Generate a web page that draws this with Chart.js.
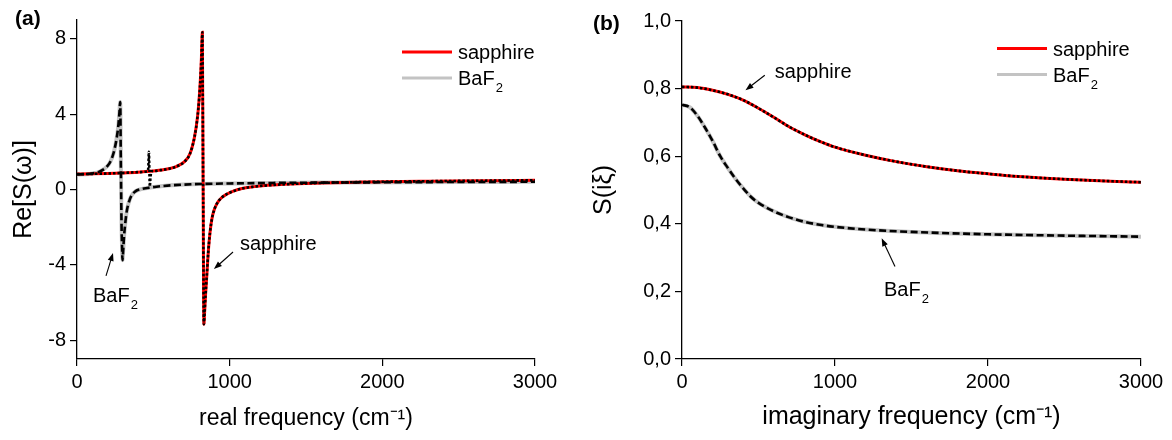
<!DOCTYPE html>
<html><head><meta charset="utf-8">
<script src="https://cdn.jsdelivr.net/npm/chart.js@4"></script>
<style>
html,body{margin:0;padding:0;background:#fff;}
#wrap{position:relative;width:1172px;height:440px;overflow:hidden;}
#ca{position:absolute;left:0;top:0;}
#cb{position:absolute;left:580px;top:0;}
</style></head><body>
<div id="wrap"><canvas id="ca" width="580" height="440"></canvas><canvas id="cb" width="592" height="440"></canvas></div>
<script>
// ---------- data ----------
const seriesNames = ['sapphire', 'BaF₂'];

// panel (a): Re[S(omega)] vs real frequency
const freqA_sapphire = [0,100,200,300,400,500,550,600,650,700,740,770,790,800,810,815,818,821,826,831,836,842,850,860,871,885,900,920,945,980,1020,1080,1150,1250,1400,1600,1900,2300,2700,3000];
const reS_sapphire   = [0.82,0.83,0.85,0.88,0.92,0.98,1.03,1.1,1.22,1.45,1.9,2.8,3.9,4.8,6.1,7.0,7.8,8.35,0.5,-7.15,-6.5,-5.6,-4.6,-3.3,-2.3,-1.5,-1.05,-0.7,-0.45,-0.25,-0.1,0.05,0.14,0.22,0.29,0.35,0.4,0.44,0.47,0.49];
const freqA_sapphireFit = [0,100,200,300,400,460,467,471,474,477,481,487,500,550,600,650,700,740,770,790,800,810,815,818,821,826,831,836,842,850,860,871,885,900,920,945,980,1020,1080,1150,1250,1400,1600,1900,2300,2700,3000];
const reS_sapphireFit   = [0.82,0.83,0.85,0.88,0.92,0.96,1.15,2.0,1.0,0.16,0.6,0.97,0.98,1.03,1.1,1.22,1.45,1.9,2.8,3.9,4.8,6.1,7.0,7.8,8.35,0.5,-7.15,-6.5,-5.6,-4.6,-3.3,-2.3,-1.5,-1.05,-0.7,-0.45,-0.25,-0.1,0.05,0.14,0.22,0.29,0.35,0.4,0.44,0.47,0.49];
const freqA_baf2 = [0,50,100,150,200,220,240,255,265,272,278,283,287,292,295,298,302,308,316,325,338,355,382,420,460,520,612,700,800,1000,1300,1700,2200,2600,3000];
const reS_baf2   = [0.8,0.81,0.85,0.96,1.25,1.5,1.95,2.5,3.0,3.5,4.1,4.65,1.5,-2.0,-3.0,-3.75,-3.3,-2.5,-1.8,-1.2,-0.72,-0.35,-0.1,0.02,0.08,0.15,0.22,0.26,0.29,0.32,0.35,0.37,0.39,0.4,0.41];

// panel (b): S(i xi) vs imaginary frequency
const freqB_sapphire = [0,100,200,300,400,500,600,700,800,900,1000,1200,1400,1600,1800,2000,2200,2500,2800,3000];
const S_sapphire     = [0.805,0.803,0.795,0.783,0.766,0.742,0.715,0.687,0.664,0.644,0.627,0.603,0.584,0.569,0.557,0.548,0.54,0.532,0.526,0.523];
const freqB_baf2 = [0,50,100,150,200,250,300,350,400,450,500,600,700,800,900,1000,1200,1500,2000,2500,3000];
const S_baf2     = [0.752,0.745,0.72,0.685,0.645,0.6,0.565,0.533,0.505,0.48,0.462,0.437,0.419,0.406,0.397,0.391,0.383,0.376,0.369,0.365,0.362];

// ticks
const xTicks = [0,1000,2000,3000];
const xTickLabels = ['0','1000','2000','3000'];
const yTicksA = [-8,-4,0,4,8];
const yTickLabelsA = ['-8','-4','0','4','8'];
const yTicksB = [0,0.2,0.4,0.6,0.8,1.0];
const yTickLabelsB = ['0,0','0,2','0,4','0,6','0,8','1,0'];

// ---------- rendering ----------
const FONT = '"Liberation Sans", Arial, Helvetica, sans-serif';
const RED = '#ff0000', GRAY = '#c3c3c3', BLACK = '#000000';

function pts(xs, ys) { return xs.map((x, i) => ({x: x, y: ys[i]})); }

function drawRich(ctx, text, x, y, size) {
  ctx.textBaseline = 'alphabetic'; ctx.textAlign = 'left'; ctx.fillStyle = '#000';
  let cx = x;
  for (const seg of text.split(/(₂)/)) {
    if (!seg) continue;
    if (seg === '₂') {
      ctx.font = Math.round(size * 0.65) + 'px ' + FONT;
      ctx.fillText('2', cx + 1, y + 7);
      cx += ctx.measureText('2').width + 1;
    } else {
      ctx.font = size + 'px ' + FONT;
      ctx.fillText(seg, cx, y);
      cx += ctx.measureText(seg).width;
    }
  }
}
function drawArrow(ctx, x1, y1, x2, y2) {
  const a = Math.atan2(y2 - y1, x2 - x1), L = 8, W = 3;
  ctx.strokeStyle = '#000'; ctx.fillStyle = '#000'; ctx.lineWidth = 1.1;
  ctx.beginPath(); ctx.moveTo(x1, y1); ctx.lineTo(x2 - L * 0.8 * Math.cos(a), y2 - L * 0.8 * Math.sin(a)); ctx.stroke();
  ctx.beginPath(); ctx.moveTo(x2, y2);
  ctx.lineTo(x2 - L * Math.cos(a) + W * Math.sin(a), y2 - L * Math.sin(a) - W * Math.cos(a));
  ctx.lineTo(x2 - L * Math.cos(a) - W * Math.sin(a), y2 - L * Math.sin(a) + W * Math.cos(a));
  ctx.closePath(); ctx.fill();
}

const decor = {
  id: 'decor',
  afterDraw(chart, args, o) {
    const ctx = chart.ctx, xs = chart.scales.x, ys = chart.scales.y, ca = chart.chartArea;
    ctx.save();
    ctx.font = 'bold 21px ' + FONT; ctx.fillStyle = '#000'; ctx.textBaseline = 'alphabetic'; ctx.textAlign = 'left';
    ctx.fillText(o.panel, o.panelPos[0], o.panelPos[1]);
    const items = chart.data.datasets.filter(d => d.inLegend);
    items.forEach((d, i) => {
      const ly = ca.top + o.legendTop + i * o.legendGap;
      const lx = ca.right - o.legendRight;
      ctx.strokeStyle = d.borderColor; ctx.lineWidth = 3; ctx.setLineDash([]);
      ctx.beginPath(); ctx.moveTo(lx, ly); ctx.lineTo(lx + 50, ly); ctx.stroke();
      drawRich(ctx, d.label, lx + 56, ly + 7, 20);
    });
    o.notes.forEach(n => drawRich(ctx, n.text, xs.getPixelForValue(n.x), ys.getPixelForValue(n.y), 20));
    o.arrows.forEach(a => drawArrow(ctx, xs.getPixelForValue(a.from[0]), ys.getPixelForValue(a.from[1]),
                                          xs.getPixelForValue(a.to[0]), ys.getPixelForValue(a.to[1])));
    ctx.restore();
  }
};

function lineDs(label, data, color, width, dash, legend) {
  return {label: label, data: data, borderColor: color, backgroundColor: color, borderWidth: width,
          borderDash: dash, pointRadius: 0, fill: false, cubicInterpolationMode: 'monotone',
          inLegend: legend, borderCapStyle: 'butt'};
}

function makeOptions(cfg) {
  return {
    responsive: false, animation: false, devicePixelRatio: 1, events: [],
    layout: {padding: cfg.padding},
    plugins: {legend: {display: false}, tooltip: {enabled: false}, decor: cfg.decor},
    scales: {
      x: {
        type: 'linear', min: 0, max: 3000,
        afterBuildTicks: s => { s.ticks = xTicks.map(v => ({value: v})); },
        afterFit: s => { s.height = 81; },
        ticks: {font: {size: 20, family: FONT}, color: '#000', padding: 4, maxRotation: 0, autoSkip: false,
                callback: (v, i) => xTickLabels[i]},
        grid: {drawOnChartArea: false, drawTicks: true, tickLength: 7, color: '#000', lineWidth: 1.2},
        border: {display: true, color: '#000', width: 1.3},
        title: {display: true, text: cfg.xTitle, font: {size: cfg.xTitleSize, family: FONT}, color: '#000', padding: {top: 0, bottom: 8}}
      },
      y: {
        type: 'linear', min: cfg.yMin, max: cfg.yMax,
        afterBuildTicks: s => { s.ticks = cfg.yTicks.map(v => ({value: v})); },
        afterFit: s => { s.width = cfg.yWidth; },
        ticks: {font: {size: 20, family: FONT}, color: '#000', padding: 4, autoSkip: false,
                callback: (v, i) => cfg.yLabels[i]},
        grid: {drawOnChartArea: false, drawTicks: true, tickLength: 7, color: '#000', lineWidth: 1.2},
        border: {display: true, color: '#000', width: 1.3},
        title: {display: true, text: cfg.yTitle, font: {size: 25, family: FONT}, color: '#000', padding: {top: 9, bottom: 0}}
      }
    }
  };
}

new Chart(document.getElementById('ca'), {
  type: 'line',
  data: {datasets: [
    lineDs(seriesNames[0] + ' fit', pts(freqA_sapphireFit, reS_sapphireFit), BLACK, 2.6, [2.5, 2], false),
    lineDs(seriesNames[1] + ' fit', pts(freqA_baf2, reS_baf2), BLACK, 2.6, [7, 3.5], false),
    lineDs(seriesNames[0], pts(freqA_sapphire, reS_sapphire), RED, 3, [], true),
    lineDs(seriesNames[1], pts(freqA_baf2, reS_baf2), GRAY, 4, [], true)
  ]},
  options: makeOptions({
    padding: {left: 0, top: 20, right: 45, bottom: 0},
    yMin: -9, yMax: 9, yTicks: yTicksA, yLabels: yTickLabelsA, yWidth: 77,
    xTitle: 'real frequency (cm⁻¹)', xTitleSize: 23, yTitle: 'Re[S(ω)]',
    decor: {panel: '(a)', panelPos: [15, 25], legendTop: 32, legendGap: 26, legendRight: 133,
      notes: [{text: 'BaF₂', x: 105, y: -5.97}, {text: 'sapphire', x: 1067, y: -3.21}],
      arrows: [{from: [190, -4.59], to: [236, -3.37]}, {from: [1022, -3.32], to: [897, -4.22]}]}
  }),
  plugins: [decor]
});

new Chart(document.getElementById('cb'), {
  type: 'line',
  data: {datasets: [
    lineDs(seriesNames[0] + ' fit', pts(freqB_sapphire, S_sapphire), BLACK, 2.6, [2.5, 2], false),
    lineDs(seriesNames[1] + ' fit', pts(freqB_baf2, S_baf2), BLACK, 2.6, [7, 3.5], false),
    lineDs(seriesNames[0], pts(freqB_sapphire, S_sapphire), RED, 3, [], true),
    lineDs(seriesNames[1], pts(freqB_baf2, S_baf2), GRAY, 4, [], true)
  ]},
  options: makeOptions({
    padding: {left: 0, top: 21, right: 31, bottom: 0},
    yMin: 0, yMax: 1.0, yTicks: yTicksB, yLabels: yTickLabelsB, yWidth: 102,
    xTitle: 'imaginary frequency (cm⁻¹)', xTitleSize: 25, yTitle: 'S(iξ)',
    decor: {panel: '(b)', panelPos: [13, 30], legendTop: 27.5, legendGap: 26, legendRight: 144,
      notes: [{text: 'sapphire', x: 607, y: 0.830}, {text: 'BaF₂', x: 1320, y: 0.187}],
      arrows: [{from: [541, 0.8396], to: [415, 0.7953]}, {from: [1392, 0.2735], to: [1305, 0.3574]}]}
  }),
  plugins: [decor]
});
</script>
</body></html>
